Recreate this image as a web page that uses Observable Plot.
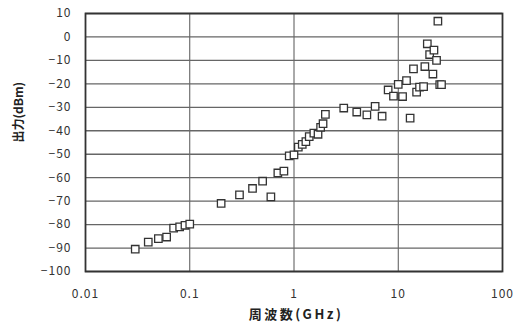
<!DOCTYPE html>
<html>
<head>
<meta charset="utf-8">
<script src="https://cdn.jsdelivr.net/npm/d3@7"></script>
<script src="https://cdn.jsdelivr.net/npm/@observablehq/plot@0.6"></script>
<style>
  html, body { margin: 0; padding: 0; background: #fff; }
  #chart svg { display: block; }
  #chart svg g[aria-label="y-axis tick label"] text,
  #chart svg g[aria-label="x-axis tick label"] text { letter-spacing: 1px; }
</style>
</head>
<body>
<div id="chart"></div>
<script>
const freqGHz = [0.03, 0.04, 0.05, 0.06, 0.07, 0.08, 0.09, 0.1,
  0.2, 0.3, 0.4, 0.5, 0.6, 0.7, 0.8, 0.9, 1.0, 1.1, 1.2, 1.3, 1.4, 1.55, 1.7, 1.8, 1.9, 2.0,
  3, 4, 5, 6, 7, 8, 9, 10, 11, 12, 13, 14, 15, 16, 17.5, 18, 19, 20, 21.5, 22, 23.3, 24, 25, 26];
const powerDBm = [-90.5, -87.5, -86, -85.3, -81.5, -81, -80.3, -79.8,
  -71, -67.3, -64.6, -61.5, -68.2, -58, -57.2, -50.7, -50.3, -47, -45.8, -44.6, -42.5, -41, -41.5, -38.5, -37, -33,
  -30.3, -32, -33.2, -29.6, -33.8, -22.6, -25.2, -20.2, -25.4, -18.6, -34.6, -13.6, -23.5, -21.4, -21.2, -12.6, -2.9, -7.5, -15.8, -5.6, -10, 6.7, -20.3, -20.3];
const xTicks = [0.01, 0.1, 1, 10, 100];
const xTickLabels = ["0.01", "0.1", "1", "10", "100"];
const yTicks = [-100, -90, -80, -70, -60, -50, -40, -30, -20, -10, 0, 10];
const xTitle = "周波数(GHz)";
const yTitle = "出力(dBm)";

const data = freqGHz.map((f, i) => ({f, p: powerDBm[i]}));
const xLabelOf = new Map(xTicks.map((t, i) => [t, xTickLabels[i]]));

const chart = Plot.plot({
  width: 520,
  height: 324,
  marginLeft: 85,
  marginRight: 18,
  marginTop: 13,
  marginBottom: 53,
  style: {fontFamily: "'Noto Sans CJK JP', sans-serif", fontSize: "12px", color: "#333", background: "#fff"},
  x: {type: "log", domain: [0.01, 100]},
  y: {domain: [-100, 10]},
  marks: [
    Plot.gridX(xTicks, {stroke: "#555", strokeOpacity: 1, strokeWidth: 1}),
    Plot.gridY(yTicks, {stroke: "#666", strokeOpacity: 1, strokeWidth: 1.3}),
    Plot.frame({stroke: "#333", strokeWidth: 1.8}),
    Plot.axisX(xTicks, {tickSize: 0, tickPadding: 18, tickFormat: (d) => xLabelOf.get(d), label: null, fontSize: 12}),
    Plot.axisY(yTicks, {tickSize: 0, tickPadding: 14, label: null, fontSize: 12}),
    Plot.text([xTitle], {frameAnchor: "bottom", dy: 47, dx: 2, fontSize: 13, fill: "#222", fontWeight: 600}),
    Plot.text([yTitle], {frameAnchor: "left", dx: -66, rotate: -90, fontSize: 12, fill: "#222", fontWeight: 600}),
    Plot.dot(data, {x: "f", y: "p", symbol: "square", r: 4.2, fill: "white", stroke: "#333", strokeWidth: 1.3})
  ]
});
d3.select(chart).selectAll("text").filter(function() { return this.textContent === xTitle; })
  .attr("letter-spacing", "2.5px");
document.getElementById("chart").appendChild(chart);
</script>
</body>
</html>
